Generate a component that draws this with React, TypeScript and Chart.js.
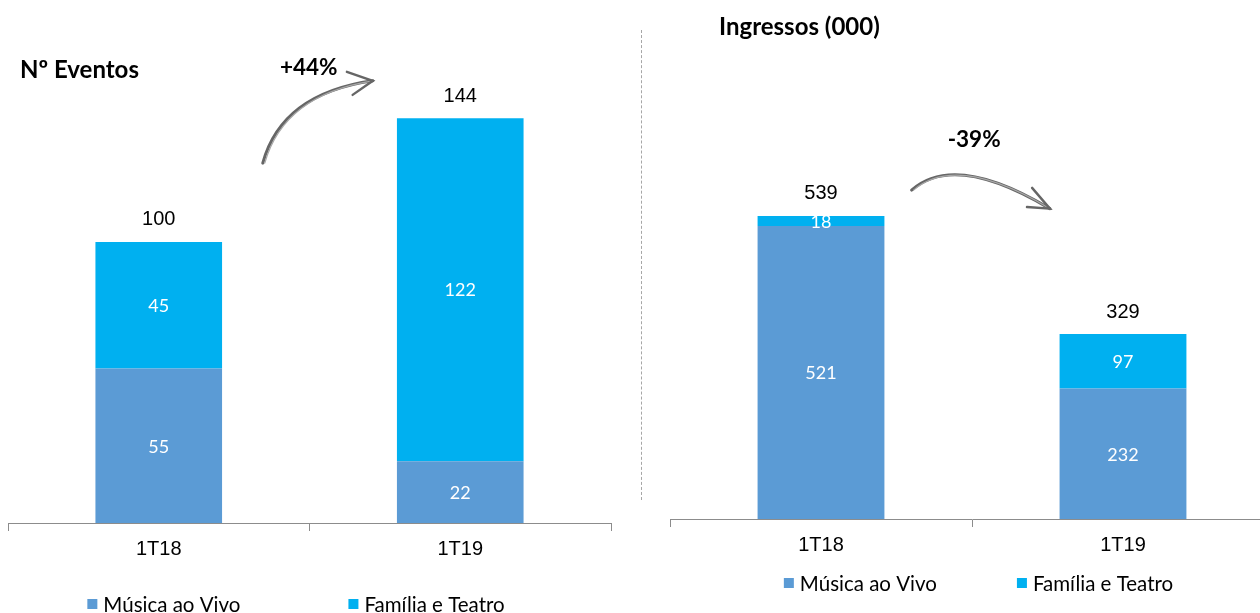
import React, { useEffect, useRef } from "react";
import { Chart, registerables } from "chart.js";

Chart.register(...registerables);

// ---- data ----
const categories = ["1T18", "1T19"];
const seriesNames = ["Música ao Vivo", "Família e Teatro"];
const seriesColors = ["#5B9BD5", "#00B0F0"];
const eventosMusica = [55, 22];
const eventosFamilia = [45, 122];
const ingressosMusica = [521, 232];
const ingressosFamilia = [18, 97];
const eventosTitle = "Nº Eventos";
const ingressosTitle = "Ingressos (000)";
const eventosChange = "+44%";
const ingressosChange = "-39%";

const ARIAL = '"Liberation Sans", Arial, sans-serif';
const CAL = 'Lato, "Open Sans", sans-serif';

type Pt = [number, number]; // [fraction between category centers, value]

const annotatePlugin = {
  id: "annotate",
  afterDatasetsDraw(chart: any, _args: any, opts: any) {
    const ctx = chart.ctx as CanvasRenderingContext2D;
    const xs = chart.scales.x;
    const ys = chart.scales.y;
    const c0 = xs.getPixelForValue(0);
    const c1 = xs.getPixelForValue(1);
    const P = (p: Pt) => [c0 + (c1 - c0) * p[0], ys.getPixelForValue(p[1])];
    ctx.save();
    // inside labels
    ctx.textAlign = "center";
    ctx.textBaseline = "middle";
    ctx.font = `18px ${CAL}`;
    ctx.fillStyle = "#ffffff";
    chart.data.datasets.forEach((ds: any, di: number) => {
      const meta = chart.getDatasetMeta(di);
      meta.data.forEach((el: any, i: number) => {
        ctx.fillText(String(ds.data[i]), el.x, (el.y + el.base) / 2 + 1);
      });
    });
    // totals
    ctx.font = `20px ${ARIAL}`;
    ctx.fillStyle = "#000000";
    const top = chart.getDatasetMeta(chart.data.datasets.length - 1);
    top.data.forEach((el: any, i: number) => {
      let sum = 0;
      chart.data.datasets.forEach((ds: any) => (sum += ds.data[i]));
      ctx.fillText(String(sum), el.x, el.y - 22);
    });
    // title
    ctx.font = `bold 24px ${CAL}`;
    ctx.textAlign = "left";
    ctx.fillText(opts.title, opts.titleX, opts.titleY);
    // change label
    const t = P(opts.textAt);
    ctx.font = `bold 22.5px ${CAL}`;
    ctx.textAlign = "center";
    ctx.fillText(opts.change, t[0], t[1]);
    // arrow
    const s = P(opts.arrow.s), c = P(opts.arrow.c), e = P(opts.arrow.e);
    const ha = P(opts.arrow.ha), hb = P(opts.arrow.hb);
    ctx.strokeStyle = "#666666";
    ctx.lineCap = "round";
    ctx.lineWidth = 3;
    ctx.beginPath();
    ctx.moveTo(s[0], s[1]);
    ctx.quadraticCurveTo(c[0], c[1], e[0], e[1]);
    ctx.stroke();
    ctx.lineWidth = 1.2;
    ctx.strokeStyle = "#a8a8a8";
    ctx.beginPath();
    ctx.moveTo(s[0] + 2, s[1]);
    ctx.quadraticCurveTo(c[0] + 2, c[1] + 1, e[0], e[1]);
    ctx.stroke();
    ctx.lineWidth = 2.4;
    ctx.strokeStyle = "#666666";
    ctx.beginPath();
    ctx.moveTo(ha[0], ha[1]);
    ctx.lineTo(e[0], e[1]);
    ctx.lineTo(hb[0], hb[1]);
    ctx.stroke();
    // legend
    ctx.font = `20.5px ${CAL}`;
    ctx.textBaseline = "middle";
    const items = chart.data.datasets.map((ds: any) => ({
      text: ds.label,
      color: ds.backgroundColor,
      w: 10 + 6 + ctx.measureText(ds.label).width,
    }));
    const total = items.reduce((a: number, it: any) => a + it.w, 0) + opts.legendGap * (items.length - 1);
    let x = opts.legendCenter - total / 2;
    items.forEach((it: any) => {
      ctx.fillStyle = it.color;
      ctx.fillRect(x, opts.legendY - 5, 10, 10);
      ctx.fillStyle = "#000000";
      ctx.textAlign = "left";
      ctx.fillText(it.text, x + 16, opts.legendY + 1);
      x += it.w + opts.legendGap;
    });
    ctx.restore();
  },
};

function makeConfig(
  musica: number[],
  familia: number[],
  yMax: number,
  padding: any,
  ann: any
): any {
  return {
    type: "bar",
    data: {
      labels: categories,
      datasets: [
        {
          label: seriesNames[0],
          data: musica,
          backgroundColor: seriesColors[0],
          barPercentage: 0.42,
          categoryPercentage: 1,
        },
        {
          label: seriesNames[1],
          data: familia,
          backgroundColor: seriesColors[1],
          barPercentage: 0.42,
          categoryPercentage: 1,
        },
      ],
    },
    options: {
      responsive: false,
      animation: false,
      layout: { padding },
      plugins: {
        legend: { display: false },
        tooltip: { enabled: false },
        annotate: ann,
      },
      scales: {
        x: {
          stacked: true,
          afterFit: (scale: any) => {
            scale.height = 40;
          },
          border: { display: true, color: "#8c8c8c", width: 1 },
          grid: {
            display: true,
            offset: true,
            drawOnChartArea: false,
            drawTicks: true,
            tickLength: 8,
            color: "#8c8c8c",
          },
          ticks: {
            color: "#000000",
            padding: 6,
            font: { family: ARIAL, size: 20 },
          },
        },
        y: {
          stacked: true,
          display: false,
          min: 0,
          max: yMax,
        },
      },
    },
    plugins: [annotatePlugin],
  };
}

function ChartCanvas(props: { width: number; height: number; left: number; config: () => any }) {
  const ref = useRef<HTMLCanvasElement | null>(null);
  useEffect(() => {
    if (!ref.current) return;
    const chart = new Chart(ref.current, props.config());
    return () => chart.destroy();
  }, []);
  return (
    <canvas
      ref={ref}
      width={props.width}
      height={props.height}
      style={{ position: "absolute", left: props.left, top: 0, width: props.width, height: props.height }}
    />
  );
}

export default function App() {
  return (
    <div
      style={{
        position: "fixed",
        left: 0,
        top: 0,
        width: 1260,
        height: 613,
        overflow: "hidden",
        background: "#ffffff",
      }}
    >
      <ChartCanvas
        width={640}
        height={613}
        left={0}
        config={() =>
          makeConfig(eventosMusica, eventosFamilia, 180, { left: 8, right: 29, top: 17, bottom: 50 }, {
            title: eventosTitle,
            titleX: 20,
            titleY: 70,
            change: eventosChange,
            textAt: [0.4975, 162],
            arrow: { s: [0.345, 128], c: [0.408, 152.7], e: [0.71, 157.3], ha: [0.624, 160.5], hb: [0.643, 152.3] },
            legendCenter: 296,
            legendY: 604,
            legendGap: 108,
          })
        }
      />
      <ChartCanvas
        width={630}
        height={613}
        left={645}
        config={() =>
          makeConfig(ingressosMusica, ingressosFamilia, 900, { left: 25, right: 1, top: 13, bottom: 54 }, {
            title: ingressosTitle,
            titleX: 74,
            titleY: 27,
            change: ingressosChange,
            textAt: [0.507, 674],
            arrow: { s: [0.3, 585], c: [0.444, 653], e: [0.758, 552], ha: [0.682, 555], hb: [0.699, 589] },
            legendCenter: 333.5,
            legendY: 583,
            legendGap: 80,
          })
        }
      />
      <div
        style={{
          position: "absolute",
          left: 641,
          top: 30,
          height: 470,
          borderLeft: "1px dashed #a6a6a6",
        }}
      />
    </div>
  );
}
